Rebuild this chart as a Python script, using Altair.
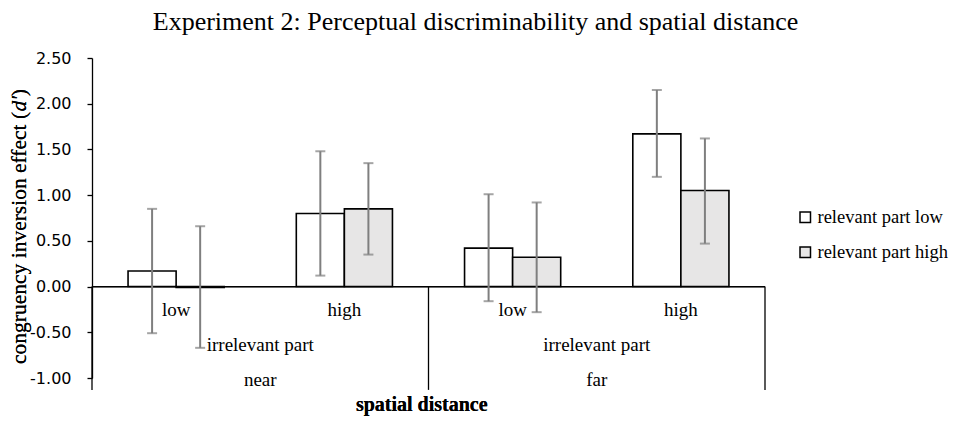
import altair as alt
import pandas as pd

# ---- data ----
distance_groups = ["near", "far"]
irrelevant_levels = ["low", "high"]
relevant_levels = ["relevant part low", "relevant part high"]

bar_distance = ["near", "near", "near", "near", "far", "far", "far", "far"]
bar_irrelevant = ["low", "low", "high", "high", "low", "low", "high", "high"]
bar_relevant = ["relevant part low", "relevant part high"] * 4
means = [0.17, -0.01, 0.80, 0.85, 0.42, 0.32, 1.67, 1.05]
err_low = [-0.51, -0.67, 0.12, 0.35, -0.16, -0.28, 1.20, 0.47]
err_high = [0.85, 0.66, 1.48, 1.35, 1.01, 0.92, 2.15, 1.62]

y_ticks = [-1.0, -0.5, 0.0, 0.5, 1.0, 1.5, 2.0, 2.5]

title_text = "Experiment 2: Perceptual discriminability and spatial distance"
x_title = "spatial distance"
mid_label = "irrelevant part"

# ---- tables ----
df = pd.DataFrame({
    "distance": bar_distance,
    "irrelevant": bar_irrelevant,
    "relevant": bar_relevant,
    "mean": means,
    "lo": err_low,
    "hi": err_high,
})
df["cat"] = df["distance"] + "|" + df["irrelevant"]
cat_order = [f"{d}|{i}" for d in distance_groups for i in irrelevant_levels]
lab_df = pd.DataFrame({"cat": cat_order,
                       "label": [i for d in distance_groups for i in irrelevant_levels]})
grp_df = pd.DataFrame({"pos": [0.5, 1.5], "name": distance_groups})
div_df = pd.DataFrame({"pos": [0.0, 1.0, 2.0]})

SERIF = "Liberation Serif"
YS = alt.Scale(domain=[-1, 2.5], nice=False)
XB = alt.Scale(domain=[0, 2], nice=False, zero=False)
YAXIS = alt.Axis(
    values=y_ticks,
    labelExpr="(datum.value < 0 ? '-' : '') + format(abs(datum.value), '.2f')",
    labelFont="DejaVu Sans", labelFontSize=16, labelColor="black",
    labelPadding=16, tickSize=5, tickColor="black", tickWidth=1.3,
    domainColor="black", domainWidth=1.3, grid=False, title=None)


def xband():
    return alt.X("cat:N", sort=cat_order, axis=None,
                 scale=alt.Scale(paddingInner=1.5 / 3.5, paddingOuter=0.75 / 3.5))


xoff = alt.XOffset("relevant:N", sort=relevant_levels,
                   scale=alt.Scale(paddingInner=0, paddingOuter=0))

bars = alt.Chart(df).mark_bar(stroke="black", strokeWidth=1.6).encode(
    x=xband(), xOffset=xoff,
    y=alt.Y("mean:Q", scale=YS, axis=YAXIS),
    fill=alt.Fill("relevant:N", sort=relevant_levels,
                  scale=alt.Scale(domain=relevant_levels, range=["#ffffff", "#e7e6e6"]),
                  legend=alt.Legend(orient="none", legendX=704, legendY=150, title=None,
                                    symbolType="square", symbolSize=110,
                                    symbolStrokeColor="black", symbolStrokeWidth=1.5,
                                    symbolOpacity=1, labelFont=SERIF, labelFontSize=18.5,
                                    labelColor="black", labelOffset=3, rowPadding=16,
                                    padding=0)),
)

err = alt.Chart(df).mark_rule(color="#7f7f7f", strokeWidth=2).encode(
    x=xband(), xOffset=xoff,
    y=alt.Y("lo:Q", scale=YS, axis=YAXIS), y2="hi:Q")
cap_lo = alt.Chart(df).mark_tick(color="#7f7f7f", thickness=2, size=10).encode(
    x=xband(), xOffset=xoff,
    y=alt.Y("lo:Q", scale=YS, axis=YAXIS))
cap_hi = alt.Chart(df).mark_tick(color="#7f7f7f", thickness=2, size=10).encode(
    x=xband(), xOffset=xoff,
    y=alt.Y("hi:Q", scale=YS, axis=YAXIS))

sub_labels = alt.Chart(lab_df).mark_text(font=SERIF, fontSize=19, color="black",
                                         baseline="alphabetic").encode(
    x=xband(),
    y=alt.YDatum(-0.32, scale=YS, axis=YAXIS),
    text="label:N",
)

# ---- category-axis decorations on a continuous scale ----
axis_line = alt.Chart(div_df).mark_rule(color="black", strokeWidth=1.3).encode(
    x=alt.XDatum(0, scale=XB, axis=None), x2=alt.X2Datum(2),
    y=alt.YDatum(0, scale=YS, axis=YAXIS))
dividers = alt.Chart(div_df).mark_rule(color="black", strokeWidth=1.3).encode(
    x=alt.X("pos:Q", scale=XB, axis=None),
    y=alt.YDatum(0, scale=YS, axis=YAXIS), y2=alt.Y2Datum(-1.13))
mid_text = alt.Chart(grp_df).mark_text(font=SERIF, fontSize=19, color="black",
                                       baseline="alphabetic", text=mid_label).encode(
    x=alt.X("pos:Q", scale=XB, axis=None),
    y=alt.YDatum(-0.70, scale=YS, axis=YAXIS))
grp_text = alt.Chart(grp_df).mark_text(font=SERIF, fontSize=19, color="black",
                                       baseline="alphabetic").encode(
    x=alt.X("pos:Q", scale=XB, axis=None),
    y=alt.YDatum(-1.085, scale=YS, axis=YAXIS),
    text="name:N")
xt = alt.Chart(grp_df).mark_text(font=SERIF, fontSize=20, fontWeight="bold", color="black",
                                 baseline="alphabetic", text=x_title).encode(
    x=alt.XDatum(0.98, scale=XB, axis=None),
    y=alt.YDatum(-1.36, scale=YS, axis=YAXIS))

# y-axis title with italic d'
YT_X = -66
yt1 = alt.Chart(grp_df).mark_text(font=SERIF, fontSize=21.5, color="black", angle=270,
                                  align="left", baseline="alphabetic",
                                  text="congruency inversion effect (").encode(
    x=alt.value(YT_X), y=alt.value(306))
yt2 = alt.Chart(grp_df).mark_text(font=SERIF, fontSize=21.5, color="black", angle=270,
                                  align="left", baseline="alphabetic", fontStyle="italic",
                                  text="d'").encode(
    x=alt.value(YT_X), y=alt.value(53.5))
yt3 = alt.Chart(grp_df).mark_text(font=SERIF, fontSize=21.5, color="black", angle=270,
                                  align="left", baseline="alphabetic",
                                  text=")").encode(
    x=alt.value(YT_X), y=alt.value(38.2))

chart = alt.layer(
    bars, axis_line, dividers, err, cap_lo, cap_hi, sub_labels,
    mid_text, grp_text, xt, yt1, yt2, yt3,
).resolve_scale(x="independent").properties(
    width=673, height=320,
    padding={"left": 84, "top": 50, "right": 184, "bottom": 38},
    autosize=alt.AutoSizeParams(type="none"),
    background="white",
    title=alt.TitleParams(title_text, font=SERIF, fontSize=26, fontWeight="normal",
                          color="black", anchor="middle", dx=47, offset=15),
).configure_view(strokeWidth=0, stroke="transparent")

chart.save("out.html", embed_options={"renderer": "svg", "actions": False})
